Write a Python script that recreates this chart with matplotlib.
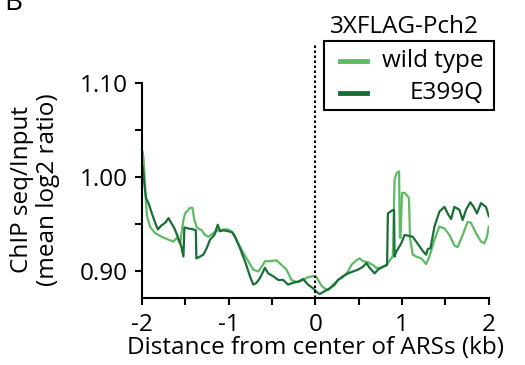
import matplotlib
matplotlib.use("Agg")
from matplotlib import pyplot as plt
from matplotlib.lines import Line2D
from matplotlib.patches import Rectangle

# distance from ARS center (kb) and mean log2 ChIP/input ratio
wt_x = [-1.99, -1.98, -1.96, -1.94, -1.90, -1.845, -1.768, -1.692, -1.634, -1.595,
        -1.557, -1.520, -1.500, -1.443, -1.416, -1.393, -1.366, -1.308, -1.270, -1.232,
        -1.175, -1.117, -1.040, -1.002, -0.945, -0.887, -0.830, -0.772, -0.715, -0.657,
        -0.618, -0.580, -0.523, -0.446, -0.389, -0.331, -0.274, -0.216, -0.159, -0.083,
        -0.025, 0.014, 0.071, 0.109, 0.147, 0.205, 0.262, 0.320, 0.377, 0.416,
        0.474, 0.511, 0.549, 0.607, 0.664, 0.703, 0.761, 0.818, 0.876, 0.894,
        0.914, 0.937, 0.966, 0.975, 0.983, 1.000, 1.029, 1.069, 1.080, 1.092,
        1.124, 1.163, 1.221, 1.278, 1.316, 1.374, 1.431, 1.489, 1.546, 1.603,
        1.641, 1.699, 1.756, 1.795, 1.853, 1.910, 1.948, 1.979, 2.0]
wt_y = [1.027, 1.020, 0.986, 0.958, 0.946, 0.940, 0.936, 0.933, 0.931, 0.935,
        0.929, 0.954, 0.961, 0.967, 0.967, 0.954, 0.946, 0.943, 0.938, 0.936,
        0.940, 0.943, 0.944, 0.944, 0.940, 0.929, 0.919, 0.910, 0.901, 0.899,
        0.904, 0.910, 0.910, 0.911, 0.906, 0.901, 0.890, 0.888, 0.889, 0.893,
        0.894, 0.893, 0.884, 0.881, 0.879, 0.885, 0.890, 0.893, 0.899, 0.906,
        0.911, 0.913, 0.910, 0.909, 0.906, 0.903, 0.903, 0.906, 0.913, 0.915,
        0.997, 1.004, 1.006, 0.935, 0.935, 0.983, 0.983, 0.979, 0.977, 0.935,
        0.917, 0.915, 0.913, 0.907, 0.915, 0.933, 0.947, 0.945, 0.938, 0.927,
        0.925, 0.938, 0.952, 0.951, 0.940, 0.931, 0.929, 0.936, 0.947]

mut_x = [-1.99, -1.98, -1.97, -1.95, -1.922, -1.883, -1.845, -1.814, -1.776, -1.730,
         -1.692, -1.661, -1.623, -1.584, -1.545, -1.520, -1.508, -1.462, -1.405, -1.377,
         -1.370, -1.328, -1.290, -1.251, -1.213, -1.163, -1.124, -1.098, -1.060, -1.002,
         -0.960, -0.925, -0.868, -0.810, -0.753, -0.715, -0.676, -0.638, -0.600, -0.580,
         -0.543, -0.485, -0.428, -0.370, -0.313, -0.255, -0.198, -0.140, -0.083, -0.025,
         0.032, 0.052, 0.109, 0.167, 0.224, 0.262, 0.320, 0.377, 0.434, 0.492,
         0.549, 0.589, 0.626, 0.684, 0.722, 0.779, 0.828, 0.837, 0.883, 0.908,
         0.914, 0.933, 0.991, 1.029, 1.086, 1.124, 1.163, 1.201, 1.239, 1.278,
         1.297, 1.328, 1.374, 1.431, 1.489, 1.526, 1.566, 1.603, 1.661, 1.699,
         1.738, 1.787, 1.826, 1.864, 1.910, 1.968, 2.0]
mut_y = [1.011, 1.005, 0.993, 0.977, 0.972, 0.961, 0.951, 0.944, 0.948, 0.951,
         0.956, 0.951, 0.945, 0.936, 0.926, 0.915, 0.946, 0.945, 0.944, 0.943,
         0.913, 0.915, 0.917, 0.924, 0.933, 0.938, 0.949, 0.942, 0.943, 0.942,
         0.941, 0.936, 0.924, 0.910, 0.894, 0.885, 0.887, 0.892, 0.899, 0.903,
         0.897, 0.894, 0.890, 0.890, 0.885, 0.887, 0.888, 0.891, 0.885, 0.881,
         0.876, 0.875, 0.878, 0.881, 0.885, 0.890, 0.894, 0.897, 0.899, 0.901,
         0.904, 0.908, 0.903, 0.897, 0.901, 0.904, 0.906, 0.961, 0.964, 0.965,
         0.915, 0.920, 0.929, 0.938, 0.937, 0.936, 0.931, 0.926, 0.921, 0.917,
         0.923, 0.924, 0.947, 0.963, 0.968, 0.961, 0.955, 0.968, 0.965, 0.954,
         0.965, 0.973, 0.968, 0.961, 0.972, 0.968, 0.958]

labels = ["wild type", "E399Q"]
colors = ["#5dbb63", "#1a6e37"]

plt.rcParams["font.family"] = ["Open Sans", "DejaVu Sans"]
fs = 17.5

fig = plt.figure(figsize=(5.25, 3.65), dpi=100)
ax = fig.add_axes([0.270, 0.183, 0.661, 0.694])

ax.plot(wt_x, wt_y, color=colors[0], lw=1.6)
ax.plot(mut_x, mut_y, color=colors[1], lw=1.6)
ax.axvline(0, color="black", ls=(0, (1.2, 1.2)), lw=1.5)

ax.set_xlim(-2, 2)
ax.set_ylim(0.8705, 1.141)
ax.set_xticks([-2, -1, 0, 1, 2])
ax.set_xticklabels(["-2", "-1", "0", "1", "2"])
ax.set_xticks([-1.5, -0.5, 0.5, 1.5], minor=True)
ax.set_yticks([0.90, 1.00, 1.10])
ax.set_yticklabels(["0.90", "1.00", "1.10"])
ax.set_yticks([0.95, 1.05], minor=True)
ax.tick_params(which="both", direction="out", length=5, width=1.5, labelsize=fs)
ax.tick_params(axis="y", pad=5)
ax.tick_params(axis="x", pad=6)
for s in ["top", "right"]:
    ax.spines[s].set_visible(False)
for s in ["left", "bottom"]:
    ax.spines[s].set_linewidth(1.5)
ax.spines["left"].set_bounds(0.8705, 1.10)

ax.set_xlabel("Distance from center of ARSs (kb)", fontsize=fs, labelpad=-1)
ax.set_ylabel("ChIP seq/Input\n(mean log2 ratio)", fontsize=fs, linespacing=1.1)
ax.yaxis.set_label_coords(-0.235, 0.43)

# legend drawn by hand so the labels sit right-aligned like the original
W, H = 525.0, 365.0
fig.add_artist(Rectangle((324 / W, 1 - 109.5 / H), 170 / W, 69 / H,
                         transform=fig.transFigure, fill=False, lw=1.5, ec="black"))
fig.text(404 / W, 1 - 33 / H, "3XFLAG-Pch2", fontsize=fs, ha="center", va="baseline")
for i, (lab, c) in enumerate(zip(labels, colors)):
    yy = 1 - (61 + 32 * i) / H
    fig.add_artist(Line2D([340 / W, 367 / W], [yy, yy], transform=fig.transFigure,
                          color=c, lw=3.5))
    fig.text(484 / W, yy, lab, fontsize=fs, ha="right", va="center")

fig.text(0.008, 1 - 10 / H, "B", fontsize=20, ha="left", va="baseline")

fig.savefig("out.png", dpi=100)
